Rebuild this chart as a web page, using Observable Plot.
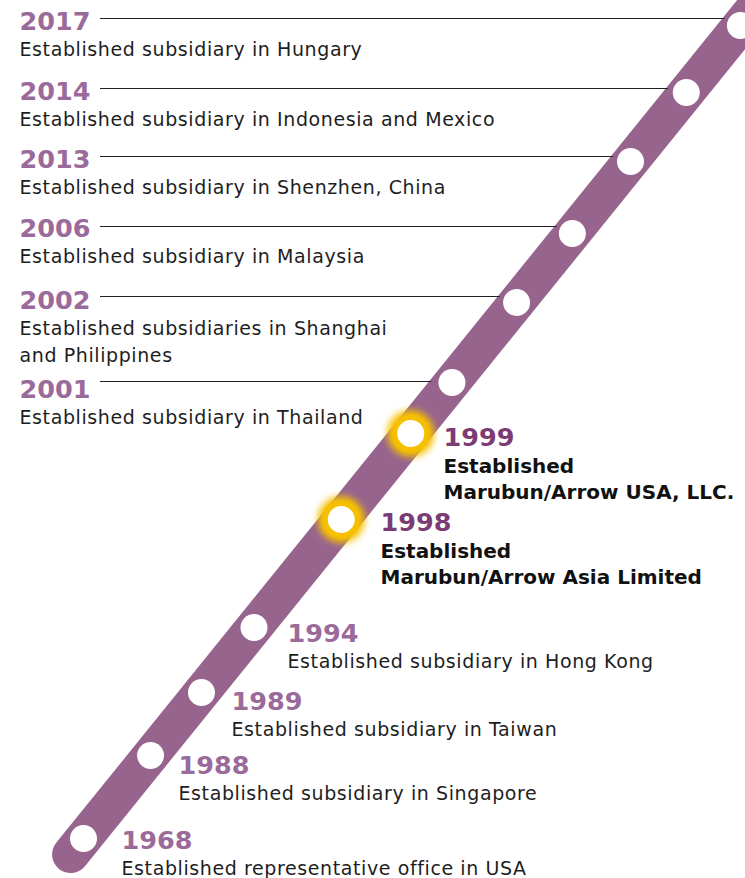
<!DOCTYPE html>
<html><head><meta charset="utf-8">
<script src="https://cdn.jsdelivr.net/npm/d3@7"></script>
<script src="https://cdn.jsdelivr.net/npm/@observablehq/plot@0.6"></script>
<style>html,body{margin:0;padding:0;background:#fff;overflow:hidden}</style>
</head><body><div id="chart"></div>
<script>
// ---- data ----
const years = ["2017","2014","2013","2006","2002","2001","1999","1998","1994","1989","1988","1968"];
const descriptions = [
  "Established subsidiary in Hungary",
  "Established subsidiary in Indonesia and Mexico",
  "Established subsidiary in Shenzhen, China",
  "Established subsidiary in Malaysia",
  "Established subsidiaries in Shanghai\nand Philippines",
  "Established subsidiary in Thailand",
  "Established\nMarubun/Arrow USA, LLC.",
  "Established\nMarubun/Arrow Asia Limited",
  "Established subsidiary in Hong Kong",
  "Established subsidiary in Taiwan",
  "Established subsidiary in Singapore",
  "Established representative office in USA"
];
const highlighted = ["1999","1998"];
const leftLabelled = ["2017","2014","2013","2006","2002","2001"];

// ---- layout (rows along the diagonal track, in page units) ----
const markerRow = [25, 92, 161, 233, 302, 382, 433, 519, 627, 692, 755, 838];
const yearRow   = [29, 99, 167, 236, 308, 397, 445, 530, 641, 709, 773, 848];
const labelCol  = [19, 19, 19, 19, 19, 19, 443, 380, 287, 231, 178, 121];
const connectorRow = [18, 88, 156, 226, 296, 381];
const W = 745, H = 878;
const trackX = y => 83 + (838 - y) * 0.808;

const events = years.map((yr, i) => ({
  year: yr, desc: descriptions[i],
  hl: highlighted.includes(yr), left: leftLabelled.includes(yr),
  cx: trackX(markerRow[i]), cy: markerRow[i],
  lx: labelCol[i], ly: yearRow[i]
}));
const descLines = events.flatMap(e => e.desc.split("\n").map((t, j) => ({
  text: t, hl: e.hl, x: e.lx,
  y: e.ly + (e.hl ? 27 : 26) + j * (e.hl ? 26.5 : 27)
})));
const connectors = events.filter(e => e.left).map((e, i) => ({
  y: connectorRow[i], x1: 100, x2: trackX(connectorRow[i]) - 21
}));
const trackPts = [{x: trackX(854), y: 854}, {x: trackX(-60), y: -60}];

const GLOW = "#f6c000", DESC = "#1e1e1e";
const hlEvents = events.filter(e => e.hl);
const chart = Plot.plot({
  width: W, height: H, margin: 0,
  x: {domain: [0, W], range: [0, W], axis: null},
  y: {domain: [0, H], range: [0, H], axis: null},
  style: {fontFamily: "DejaVu Sans", background: "#fff", overflow: "hidden"},
  marks: [
    Plot.line(trackPts, {x: "x", y: "y", stroke: "#97648e", strokeWidth: 37, strokeLinecap: "round"}),
    Plot.dot(hlEvents, {x: "cx", y: "cy", r: 23.5, fill: GLOW}),
    Plot.dot(hlEvents, {x: "cx", y: "cy", r: 18.5, fill: GLOW}),
    Plot.dot(events, {x: "cx", y: "cy", r: 13.5, fill: "white"}),
    Plot.ruleY(connectors, {y: "y", x1: "x1", x2: "x2", stroke: "#222", strokeWidth: 1.2}),
    Plot.text(events.filter(e => !e.hl), {x: "lx", y: "ly", text: "year", textAnchor: "start", lineAnchor: "bottom",
      fontSize: 25.5, fontWeight: "bold", fill: "#9a6a9a"}),
    Plot.text(hlEvents, {x: "lx", y: "ly", text: "year", textAnchor: "start", lineAnchor: "bottom",
      fontSize: 25.5, fontWeight: "bold", fill: "#7d3b75"}),
    Plot.text(descLines.filter(d => !d.hl), {x: "x", y: "y", text: "text", textAnchor: "start", lineAnchor: "bottom",
      fontSize: 19, fill: DESC}),
    Plot.text(descLines.filter(d => d.hl), {x: "x", y: "y", text: "text", textAnchor: "start", lineAnchor: "bottom",
      fontSize: 20, fontWeight: "bold", fill: "#111"})
  ]
});

const svg = d3.select(chart);
const defs = svg.insert("defs", ":first-child");
defs.append("filter").attr("id", "glow").attr("x", "-80%").attr("y", "-80%").attr("width", "260%").attr("height", "260%")
  .append("feGaussianBlur").attr("stdDeviation", 3.5);
defs.append("filter").attr("id", "glow2").attr("x", "-80%").attr("y", "-80%").attr("width", "260%").attr("height", "260%")
  .append("feGaussianBlur").attr("stdDeviation", 1.5);
const glowGroups = svg.selectAll("g").filter(function () { return this.getAttribute("fill") === GLOW; }).nodes();
if (glowGroups[0]) d3.select(glowGroups[0]).attr("filter", "url(#glow)");
if (glowGroups[1]) d3.select(glowGroups[1]).attr("filter", "url(#glow2)");
svg.selectAll("g").filter(function () { return this.getAttribute("fill") === DESC; })
  .selectAll("text").style("letter-spacing", "0.6px");
document.getElementById("chart").appendChild(chart);
</script>
</body></html>
